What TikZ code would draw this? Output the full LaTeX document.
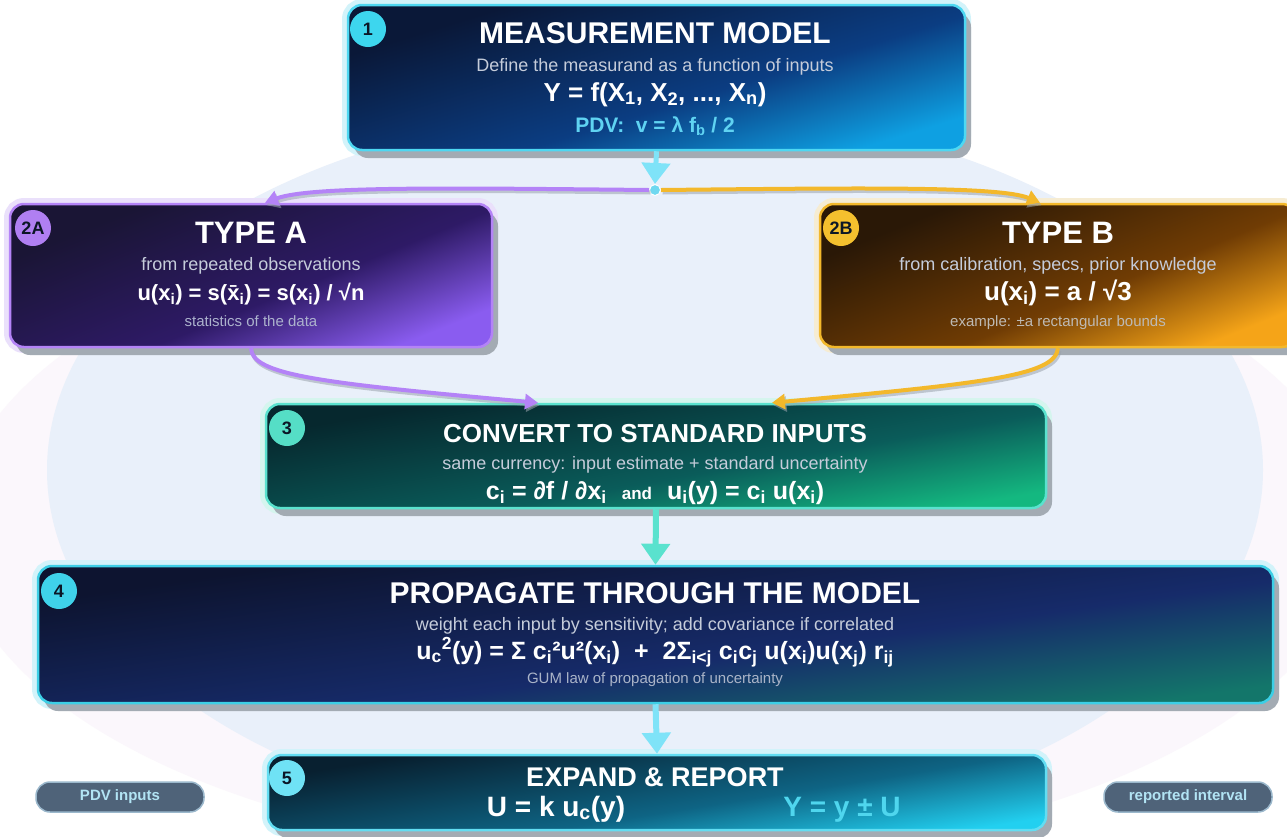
\documentclass[tikz,border=0pt]{standalone}
\usepackage{fontspec}
\setmainfont{Liberation Sans}
\usetikzlibrary{arrows.meta,shadows}
\newcommand\fsz[1]{\fontsize{#1}{#1}\selectfont}
\newcommand\lo[1]{\textsubscript{#1}}
\newcommand\hi[1]{\textsuperscript{#1}}
\definecolor{bgblue}{HTML}{E9F0FA}
\definecolor{pinkbg}{HTML}{FBF7FC}
\definecolor{shadowc}{HTML}{A3ABB3}
\definecolor{shadowl}{HTML}{9AA3AD}
\definecolor{subc}{HTML}{C5CCDA}
\definecolor{badgetext}{HTML}{0B1626}
\definecolor{cyanA}{HTML}{7FE3F8}
\definecolor{purpA}{HTML}{B483F7}
\definecolor{oranA}{HTML}{F3B82B}
\definecolor{tealA}{HTML}{5AE2CE}
\definecolor{haloC}{HTML}{D2F3FA}
\definecolor{haloP}{HTML}{EAE0FB}
\definecolor{haloO}{HTML}{F6ECD2}
\definecolor{haloT}{HTML}{D5F5EE}
\definecolor{pillc}{HTML}{4F6379}
\definecolor{pillb}{HTML}{9BB8CC}
\definecolor{pilltext}{HTML}{B2E4F4}
% box colours
\definecolor{bOneBd}{HTML}{4ED8F2}
\definecolor{bOneA}{HTML}{0A1838}
\definecolor{bOneB}{HTML}{0B3D82}
\definecolor{bOneC}{HTML}{0EA0E2}
\definecolor{bAA}{HTML}{1A1535}
\definecolor{bAB}{HTML}{2E1A66}
\definecolor{bAC}{HTML}{8A5CF0}
\definecolor{bBA}{HTML}{2A1806}
\definecolor{bBB}{HTML}{703C04}
\definecolor{bBC}{HTML}{F5A418}
\definecolor{bCA}{HTML}{06282E}
\definecolor{bCB}{HTML}{0A5C5A}
\definecolor{bCC}{HTML}{14B880}
\definecolor{bDBd}{HTML}{3CCFE6}
\definecolor{bDA}{HTML}{0D1430}
\definecolor{bDB}{HTML}{162B6A}
\definecolor{bDC}{HTML}{13766A}
\definecolor{bEBd}{HTML}{62DDF2}
\definecolor{bEA}{HTML}{082030}
\definecolor{bEB}{HTML}{0E6484}
\definecolor{bEC}{HTML}{22D0F0}
% badges
\definecolor{gOne}{HTML}{3DD6EE}
\definecolor{gA}{HTML}{B07FF2}
\definecolor{gB}{HTML}{F4C02E}
\definecolor{gC}{HTML}{55DEC6}
\definecolor{gD}{HTML}{3FD2EA}
\definecolor{gE}{HTML}{6FE2F5}
% texts
\definecolor{pdvc}{HTML}{5FD3F2}
\definecolor{noteA}{HTML}{ACB2CD}
\definecolor{noteB}{HTML}{BEBAB4}
\definecolor{noteD}{HTML}{AAB4C8}
\definecolor{ycol}{HTML}{4FD6EE}
\definecolor{jdot}{HTML}{6FD8F0}
% shadings (bottom = light, top = dark)
\pgfdeclareverticalshading{shOne}{100bp}{color(0bp)=(bOneC); color(25bp)=(bOneC); color(44bp)=(bOneB); color(72bp)=(bOneA); color(100bp)=(bOneA)}
\pgfdeclareverticalshading{shA}{100bp}{color(0bp)=(bAC); color(25bp)=(bAC); color(44bp)=(bAB); color(72bp)=(bAA); color(100bp)=(bAA)}
\pgfdeclareverticalshading{shB}{100bp}{color(0bp)=(bBC); color(25bp)=(bBC); color(44bp)=(bBB); color(72bp)=(bBA); color(100bp)=(bBA)}
\pgfdeclareverticalshading{shC}{100bp}{color(0bp)=(bCC); color(25bp)=(bCC); color(44bp)=(bCB); color(72bp)=(bCA); color(100bp)=(bCA)}
\pgfdeclareverticalshading{shD}{100bp}{color(0bp)=(bDC); color(25bp)=(bDC); color(44bp)=(bDB); color(72bp)=(bDA); color(100bp)=(bDA)}
\pgfdeclareverticalshading{shE}{100bp}{color(0bp)=(bEC); color(25bp)=(bEC); color(44bp)=(bEB); color(72bp)=(bEA); color(100bp)=(bEA)}
\begin{document}
\begin{tikzpicture}[x=1pt,y=-1pt,
  box/.style={rounded corners=14pt, line width=2.5pt, inner sep=0pt,
    preaction={draw=#1, line width=12pt},
    general shadow={fill=shadowc, shadow xshift=6pt, shadow yshift=-8pt}},
  badge/.style={circle, fill=#1, minimum size=36pt, inner sep=0pt, text=badgetext, font=\fsz{18}\bfseries},
  ttl/.style={anchor=base, text=white, font=\fsz{30}\bfseries, inner sep=0pt},
  sub/.style={anchor=base, text=subc, font=\fsz{18}, inner sep=0pt},
  frm/.style={anchor=base, text=white, font=\fsz{#1}\bfseries, inner sep=0pt},
  note/.style={anchor=base, text=#1, font=\fsz{15}, inner sep=0pt},
  pill/.style={rounded corners=14pt, minimum width=168pt, minimum height=30pt, inner sep=0pt,
    fill=pillc, draw=pillb, line width=1.5pt, text=pilltext, font=\fsz{15}\bfseries},
  bigflow/.style={line width=6pt, draw=#1, -{Triangle[length=21pt,width=28pt,fill=#1]}},
  curflow/.style={line width=4pt, draw=#1, -{Triangle[length=13pt,width=15pt,fill=#1]}},
]
\useasboundingbox (0,0) rectangle (1287,836);
\fill[white] (0,0) rectangle (1287,836);
\fill[pinkbg] (655,530) ellipse [x radius=700pt, y radius=330pt];
\fill[bgblue] (655,470) ellipse [x radius=608pt, y radius=362pt];

% boxes
\node[box=haloC, draw=bOneBd, shade, shading=shOne, shading angle=17,
  minimum width=617pt, minimum height=145pt] (m) at (656.5,77.5) {};
\node[box=haloP, draw=purpA, shade, shading=shA, shading angle=22,
  minimum width=482pt, minimum height=143pt] (a) at (251,275.5) {};
\node[box=haloO, draw=oranA, shade, shading=shB, shading angle=22,
  minimum width=476pt, minimum height=143pt] (b) at (1058,275.5) {};
\node[box=haloT, draw=tealA, shade, shading=shC, shading angle=10,
  minimum width=780pt, minimum height=104pt] (c) at (656,456) {};
\node[box=haloC, draw=bDBd, shade, shading=shD, shading angle=8,
  minimum width=1235pt, minimum height=137pt] (d) at (655.5,634.5) {};
\node[box=haloC, draw=bEBd, shade, shading=shE, shading angle=9,
  minimum width=778pt, minimum height=75pt] (e) at (657,792.5) {};

% badges
\node[badge=gOne] (b1) at (368,29) {1};
\node[badge=gA] (b2a) at (33,228) {2A};
\node[badge=gB] (b2b) at (841,228) {2B};
\node[badge=gC] (b3) at (287,428) {3};
\node[badge=gD] (b4) at (59,591) {4};
\node[badge=gE] (b5) at (287,778) {5};

% box 1 text
\node[ttl] (m-t) at (655,43) {MEASUREMENT MODEL};
\node[sub] (m-s) at (655,71) {Define the measurand as a function of inputs};
\node[frm=26] (m-f) at (655,101) {Y = f(X\lo{1}, X\lo{2}, ..., X\lo{n})};
\node[anchor=base, inner sep=0pt, text=pdvc, font=\fsz{21}\bfseries] (m-p) at (655,132) {PDV:\ \ v = λ f\lo{b} / 2};

% box 2A text
\node[ttl, font=\fsz{31}\bfseries] (a-t) at (251,243) {TYPE A};
\node[sub] (a-s) at (251,270) {from repeated observations};
\node[frm=22] (a-f) at (251,300) {u(x\lo{i}) = s(\={x}\lo{i}) = s(x\lo{i}) / √n};
\node[note=noteA] (a-n) at (251,326) {statistics of the data};

% box 2B text
\node[ttl, font=\fsz{31}\bfseries] (b-t) at (1058,243) {TYPE B};
\node[sub] (b-s) at (1058,270) {from calibration, specs, prior knowledge};
\node[frm=26] (b-f) at (1058,300) {u(x\lo{i}) = a / √3};
\node[note=noteB] (b-n) at (1058,326) {example: ±a rectangular bounds};

% box 3 text
\node[ttl, font=\fsz{26}\bfseries] (c-t) at (655,442) {CONVERT TO STANDARD INPUTS};
\node[sub] (c-s) at (655,469) {same currency: input estimate + standard uncertainty};
\node[frm=25] (c-f) at (655,499) {c\lo{i} = ∂f / ∂x\lo{i}\hspace{15pt}{\fsz{17}and}\hspace{15pt}u\lo{i}(y) = c\lo{i} u(x\lo{i})};

% box 4 text
\node[ttl] (d-t) at (655,603) {PROPAGATE THROUGH THE MODEL};
\node[sub] (d-s) at (655,630) {weight each input by sensitivity; add covariance if correlated};
\node[frm=25] (d-f) at (655,659) {u\lo{c}\hi{2}(y) = Σ c\lo{i}²u²(x\lo{i})\hspace{14pt}+\hspace{14pt}2Σ\lo{i<j} c\lo{i}c\lo{j} u(x\lo{i})u(x\lo{j}) r\lo{ij}};
\node[note=noteD] (d-n) at (655,683) {GUM law of propagation of uncertainty};

% box 5 text
\node[ttl, font=\fsz{27}\bfseries] (e-t) at (655,786) {EXPAND \& REPORT};
\node[frm=28] (e-f1) at (556,816) {U = k u\lo{c}(y)};
\node[anchor=base, inner sep=0pt, text=ycol, font=\fsz{28}\bfseries] (e-f2) at (842,816) {Y = y ± U};

% pills
\node[pill] (pin) at (120,797) {PDV inputs};
\node[pill] (pout) at (1188,797) {reported interval};

% junction
\node[circle, fill=jdot, draw=white, line width=1pt, minimum size=11pt, inner sep=0pt] (jd) at (655,190) {};

% connector shadows
\begin{scope}[transform canvas={shift={(1.5pt,-2.5pt)}}, opacity=.55]
  \draw[curflow=shadowl] (jd.west) .. controls (450,188) and (310,186) .. ([xshift=14pt]a.north);
  \draw[curflow=shadowl] (jd.east) .. controls (860,188) and (1000,186) .. ([xshift=-18pt]b.north);
  \draw[curflow=shadowl] (a.south) .. controls (252,375) and (320,383) .. ([xshift=-118pt]c.north);
  \draw[curflow=shadowl] (b.south) .. controls (1055,375) and (990,383) .. ([xshift=116pt]c.north);
\end{scope}
% connectors
\draw[bigflow=cyanA, line width=5pt] (m.south) -- (jd.north);
\draw[curflow=purpA] (jd.west) .. controls (450,188) and (310,186) .. ([xshift=14pt]a.north);
\draw[curflow=oranA] (jd.east) .. controls (860,188) and (1000,186) .. ([xshift=-18pt]b.north);
\draw[curflow=purpA] (a.south) .. controls (252,375) and (320,383) .. ([xshift=-118pt]c.north);
\draw[curflow=oranA] (b.south) .. controls (1055,375) and (990,383) .. ([xshift=116pt]c.north);
\draw[bigflow=tealA] (c.south) -- (d.north);
\draw[bigflow=cyanA] (d.south) -- (e.north);
\end{tikzpicture}
\end{document}
